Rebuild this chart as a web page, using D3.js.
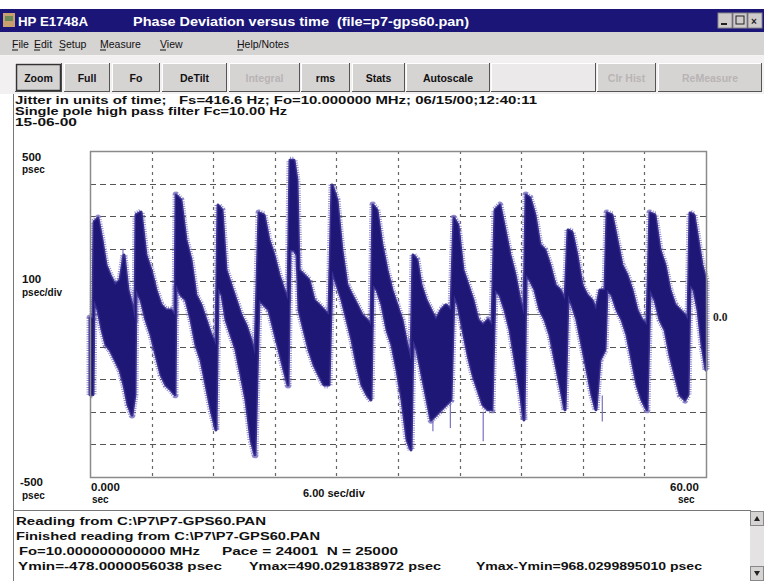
<!DOCTYPE html>
<html><head><meta charset="utf-8">
<script src="https://cdn.jsdelivr.net/npm/d3@7/dist/d3.min.js"></script>
<style>
html,body{margin:0;padding:0;background:#fff;}
svg{display:block;}
text{font-family:"Liberation Sans",Arial,sans-serif;font-weight:bold;white-space:pre;}
</style></head>
<body><svg id="c" width="764" height="581"></svg>
<script>
// ---------- data ----------
const timeSec = [0.00,0.29,0.39,0.78,1.17,1.56,1.95,2.44,2.92,3.31,3.70,4.09,4.38,
 4.48,4.97,5.45,5.94,6.43,6.92,7.40,7.89,8.28,
 8.38,8.86,9.35,9.84,10.32,10.81,11.30,11.79,12.27,
 12.47,12.86,13.25,13.73,14.22,14.71,15.19,15.68,16.07,
 16.46,16.95,17.43,17.92,18.41,18.90,19.29,
 19.48,19.87,20.16,20.36,20.84,21.33,21.82,22.30,22.79,23.28,
 23.57,24.06,24.54,25.03,25.52,26.01,26.49,26.98,27.37,
 27.56,27.95,28.44,28.93,29.41,29.90,30.39,30.88,31.27,
 31.46,31.85,32.24,32.73,33.21,33.70,34.19,34.67,35.16,
 35.45,35.84,36.33,36.82,37.30,37.79,38.28,38.77,39.15,
 39.45,39.93,40.42,40.91,41.40,41.88,42.27,
 42.47,42.86,43.34,43.83,44.32,44.80,45.29,45.78,46.27,
 46.56,46.95,47.43,47.92,48.41,48.89,49.28,49.67,50.16,
 50.36,50.84,51.33,51.82,52.30,52.79,53.28,53.76,54.25,
 54.54,55.03,55.52,56.01,56.49,56.98,57.47,57.95,58.25,
 58.44,58.83,59.22,59.61,60.00];
const upperPsec = [-12,-12,282,294,227,150,120,89,104,181,74,28,-18,
 304,313,181,135,74,28,12,12,-3,
 365,350,227,166,58,28,-18,-64,-95,
 334,319,135,89,43,-3,-34,-80,-126,
 310,304,227,181,120,74,43,
 472,472,411,135,120,104,43,28,12,-3,
 396,350,196,89,58,28,-3,-18,-34,
 334,319,212,135,74,28,-18,-95,-141,
 181,166,89,43,12,-18,12,28,12,
 294,273,135,89,43,-18,-34,-18,-34,
 319,334,258,181,120,43,-3,
 365,356,304,212,196,150,89,74,43,
 258,251,181,89,58,43,12,74,74,
 310,304,227,150,120,74,12,-18,-34,
 310,304,196,150,74,28,12,-3,-18,
 310,304,227,150,104];
const lowerPsec = [-248,-248,43,12,-49,-95,-110,-141,-172,-218,-279,-310,-248,
 74,43,-18,-64,-126,-187,-218,-233,-248,
 89,58,43,-18,-95,-141,-218,-294,-356,
 80,58,-18,-64,-110,-187,-264,-386,-432,
 43,28,12,-49,-110,-172,-218,
 196,196,181,12,-49,-110,-156,-187,-218,-218,
 135,89,43,-18,-80,-156,-218,-248,-264,
 89,74,28,-49,-95,-172,-264,-386,-417,
 -80,-110,-172,-248,-325,-310,-294,-279,-264,
 58,28,-49,-126,-187,-233,-279,-294,-294,
 74,58,12,-49,-141,-233,-325,
 120,104,74,12,-18,-64,-141,-218,-294,
 58,28,-18,-95,-172,-248,-294,-141,-110,
 74,58,12,-18,-64,-141,-218,-264,-294,
 74,43,-18,-49,-126,-187,-248,-264,-248,
 89,74,12,-95,-172];
// isolated spikes: time, from, to (psec)
const spikeTime = [3.21, 19.00, 33.40, 35.10, 38.30, 49.90];
const spikeFrom = [120, 60, -250, -250, -300, -250];
const spikeTo   = [200, -190, -360, -350, -390, -330];

const yDomain = [-500, 500];
const xDomain = [0, 60];
const yGridVals = [-400,-300,-200,-100,100,200,300,400];
const xGridVals = [6,12,18,24,30,36,42,48,54];

const titleText = "HP E1748A";
const titleText2 = "Phase Deviation versus time  (file=p7-gps60.pan)";
const menuItems = ["File","Edit","Setup","Measure","View","Help/Notes"];
const menuX = [12,34,59,100,160,237];
const buttonLabels = ["Zoom","Full","Fo","DeTilt","Integral","rms","Stats","Autoscale","","Clr Hist","ReMeasure"];
const buttonX0 = [15,64,112,162,229,301,352,406,491,597,658];
const buttonX1 = [62,110,160,227,300,350,405,490,596,656,762];
const buttonDisabled = [false,false,false,false,true,false,false,false,true,true,true];
const headerLines = ["Jitter in units of time;   Fs=416.6 Hz; Fo=10.000000 MHz; 06/15/00;12:40:11",
                     "Single pole high pass filter Fc=10.00 Hz",
                     "15-06-00"];
const headerWidths = [522, 272, 62];
const logLines = ["Reading from C:\\P7\\P7-GPS60.PAN",
                  "Finished reading from C:\\P7\\P7-GPS60.PAN"];
const logWidths = [250, 304];
const statLine = ["Fo=10.000000000000 MHz", "Pace = 24001  N = 25000"];
const minmax = ["Ymin=-478.0000056038 psec","Ymax=490.0291838972 psec","Ymax-Ymin=968.0299895010 psec"];

// ---------- drawing ----------
const svg = d3.select("#c");
const W = 764, H = 581;
const chrome = "#d6d3d3";

// title bar
svg.append("rect").attr("x",0).attr("y",9).attr("width",W).attr("height",23).attr("fill","#1b1577");
svg.append("rect").attr("x",3).attr("y",13).attr("width",12).attr("height",14).attr("fill","#c8a070");
svg.append("rect").attr("x",5).attr("y",16).attr("width",8).attr("height",5).attr("fill","#6a8a5a");
svg.append("text").attr("x",18).attr("y",26).attr("fill","#fff").attr("font-size",12)
  .attr("textLength",70).attr("lengthAdjust","spacingAndGlyphs").text(titleText);
svg.append("text").attr("x",133).attr("y",26).attr("fill","#fff").attr("font-size",12)
  .attr("textLength",336).attr("lengthAdjust","spacingAndGlyphs").text(titleText2);
[718,733,748].forEach(bx=>{
  svg.append("rect").attr("x",bx).attr("y",13).attr("width",14).attr("height",15).attr("fill","#cfcbcb").attr("stroke","#888");
});
svg.append("rect").attr("x",721).attr("y",23).attr("width",6).attr("height",2).attr("fill","#222");
svg.append("rect").attr("x",736).attr("y",16).attr("width",8).attr("height",8).attr("fill","none").attr("stroke","#222");
svg.append("text").attr("x",751).attr("y",25).attr("font-size",10).attr("fill","#222").text("×");

// menu bar
svg.append("rect").attr("x",0).attr("y",32).attr("width",W).attr("height",23).attr("fill",chrome);
menuItems.forEach((m,i)=>{
  svg.append("text").attr("x",menuX[i]).attr("y",48).attr("font-size",10.5)
    .style("font-weight","normal").attr("fill","#111").text(m);
  svg.append("line").attr("x1",menuX[i]).attr("x2",menuX[i]+6).attr("y1",50).attr("y2",50).attr("stroke","#111");
});
svg.append("line").attr("x1",0).attr("x2",W).attr("y1",55.5).attr("y2",55.5).attr("stroke","#f4f2f2");

// toolbar
svg.append("rect").attr("x",0).attr("y",56).attr("width",W).attr("height",38).attr("fill","#f2f0f0");
buttonLabels.forEach((b,i)=>{
  const x0 = buttonX0[i], x1 = buttonX1[i], y0 = 63, y1 = 92;
  const g = svg.append("g");
  g.append("rect").attr("x",x0).attr("y",y0).attr("width",x1-x0).attr("height",y1-y0)
    .attr("fill", b==="" ? "#ebe9e9" : chrome);
  g.append("line").attr("x1",x0).attr("x2",x1).attr("y1",y0+0.5).attr("y2",y0+0.5).attr("stroke","#fff");
  g.append("line").attr("x1",x0+0.5).attr("x2",x0+0.5).attr("y1",y0).attr("y2",y1).attr("stroke","#fff");
  g.append("line").attr("x1",x0).attr("x2",x1).attr("y1",y1-0.5).attr("y2",y1-0.5).attr("stroke","#555");
  g.append("line").attr("x1",x1-0.5).attr("x2",x1-0.5).attr("y1",y0).attr("y2",y1).attr("stroke","#555");
  if (i===0) g.append("rect").attr("x",x0+1.5).attr("y",y0+1.5).attr("width",x1-x0-3).attr("height",y1-y0-3)
     .attr("fill","none").attr("stroke","#333").attr("stroke-width",1.5);
  if (b) g.append("text").attr("x",(x0+x1)/2).attr("y",82).attr("text-anchor","middle").attr("font-size",10.5)
     .attr("fill", buttonDisabled[i] ? "#b8b4b4" : "#111").text(b);
});

// upper panel frame
svg.append("line").attr("x1",13.5).attr("x2",13.5).attr("y1",94).attr("y2",510).attr("stroke","#777");

headerLines.forEach((t,i)=>{
  svg.append("text").attr("x",15).attr("y",104+i*11).attr("font-size",11).attr("fill","#111")
    .attr("textLength",headerWidths[i]).attr("lengthAdjust","spacingAndGlyphs").text(t);
});

// plot area
const x = d3.scaleLinear().domain(xDomain).range([90,706]);
const y = d3.scaleLinear().domain(yDomain).range([477,151]);

svg.append("rect").attr("x",x(0)).attr("y",y(500)).attr("width",x(60)-x(0)).attr("height",y(-500)-y(500))
  .attr("fill","#fff");

const gridG = svg.append("g");
gridG.selectAll(".hg").data(yGridVals).join("line")
  .attr("x1",x(0)).attr("x2",x(60)).attr("y1",d=>Math.round(y(d))+0.5).attr("y2",d=>Math.round(y(d))+0.5)
  .attr("stroke","#555").attr("stroke-width",1.2).attr("stroke-dasharray","6,4");
gridG.selectAll(".vg").data(xGridVals).join("line")
  .attr("x1",d=>Math.round(x(d))+0.5).attr("x2",d=>Math.round(x(d))+0.5).attr("y1",y(500)).attr("y2",y(-500))
  .attr("stroke","#666").attr("stroke-width",1.2).attr("stroke-dasharray","3,4");
gridG.append("line").attr("x1",x(0)).attr("x2",x(60)).attr("y1",Math.round(y(0))+0.5).attr("y2",Math.round(y(0))+0.5)
  .attr("stroke","#666").attr("stroke-width",1.2);

// waveform envelope
const pts = timeSec.map((t,i)=>({t, hi:upperPsec[i], lo:lowerPsec[i]}));
const area = d3.area().x(d=>x(d.t)).y0(d=>y(d.lo)).y1(d=>y(d.hi));
svg.selectAll(".sp").data(spikeTime).join("line")
  .attr("x1",d=>x(d)).attr("x2",d=>x(d)).attr("y1",(d,i)=>y(spikeFrom[i])).attr("y2",(d,i)=>y(spikeTo[i]))
  .attr("stroke","#7a72c0").attr("stroke-width",1.2);
svg.append("path").datum(pts).attr("d",area)
  .attr("fill","none").attr("stroke","#7d75c2").attr("stroke-width",7).attr("stroke-dasharray","1,1.3")
  .attr("stroke-linejoin","round").attr("opacity",0.85);
svg.append("path").datum(pts).attr("d",area)
  .attr("fill","#221a7c").attr("stroke","#3a3192").attr("stroke-width",3).attr("stroke-linejoin","round");
svg.append("path").datum(pts).attr("d",area).attr("fill","#1f1776");

// plot frame
svg.append("rect").attr("x",x(0)+0.5).attr("y",y(500)+0.5).attr("width",x(60)-x(0)).attr("height",y(-500)-y(500))
  .attr("fill","none").attr("stroke","#8a8a8a").attr("stroke-width",1.5);

// axis labels
const lab = (t,xx,yy,fs,anchor)=>svg.append("text").attr("x",xx).attr("y",yy).attr("font-size",fs||11)
   .attr("fill","#111").attr("text-anchor",anchor||"start").text(t);
lab(String(yDomain[1]),22,161,11.5); lab("psec",22,173,10);
lab("100",22,283,11.5); lab("psec/div",22,296,10);
lab(String(yDomain[0]),20,486,11.5); lab("psec",22,499,10);
lab("0.000",91,491,11.5); lab("sec",92,503,10);
lab("6.00 sec/div",303,497,11);
lab("60.00",670,491,11.5); lab("sec",678,503,10);
svg.append("text").attr("x",713).attr("y",321).attr("font-size",11.5).attr("fill","#222")
  .style("font-family","'Liberation Serif',serif").text("0.0");

// bottom log panel
svg.append("rect").attr("x",13.5).attr("y",510.5).attr("width",737).attr("height",80).attr("fill","#fff").attr("stroke","#777");
svg.append("rect").attr("x",750).attr("y",511).attr("width",14).attr("height",70).attr("fill","#e4e2e2");
svg.append("rect").attr("x",750.5).attr("y",511.5).attr("width",13).attr("height",14).attr("fill",chrome).attr("stroke","#888");
svg.append("rect").attr("x",750.5).attr("y",566.5).attr("width",13).attr("height",14).attr("fill",chrome).attr("stroke","#888");
svg.append("path").attr("d","M754,521 L757,516 L760,521 Z").attr("fill","#222");
svg.append("path").attr("d","M754,571 L757,576 L760,571 Z").attr("fill","#222");

logLines.forEach((t,i)=>{
  svg.append("text").attr("x",16).attr("y",525+i*15).attr("font-size",11.5).attr("fill","#111")
    .attr("textLength",logWidths[i]).attr("lengthAdjust","spacingAndGlyphs").text(t);
});
svg.append("text").attr("x",19).attr("y",555).attr("font-size",11.5).attr("fill","#111")
  .attr("textLength",181).attr("lengthAdjust","spacingAndGlyphs").text(statLine[0]);
svg.append("text").attr("x",222).attr("y",555).attr("font-size",11.5).attr("fill","#111")
  .attr("textLength",176).attr("lengthAdjust","spacingAndGlyphs").text(statLine[1]);
const mmX = [18,249,476], mmW = [204,192,226];
minmax.forEach((t,i)=>{
  svg.append("text").attr("x",mmX[i]).attr("y",570).attr("font-size",11.5).attr("fill","#111")
    .attr("textLength",mmW[i]).attr("lengthAdjust","spacingAndGlyphs").text(t);
});
</script></body></html>
